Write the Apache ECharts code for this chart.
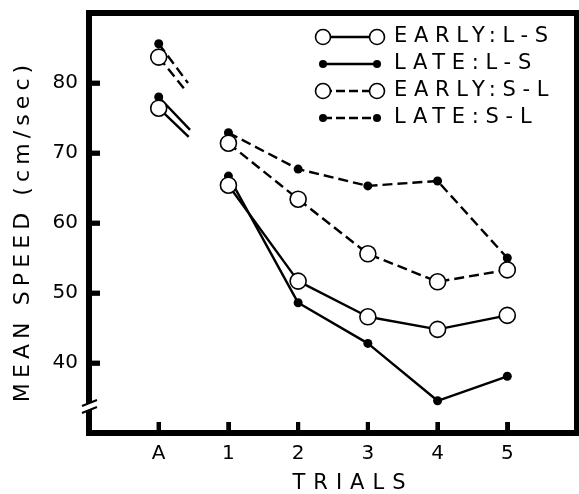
<!DOCTYPE html>
<html><head><meta charset="utf-8">
<script src="https://cdn.jsdelivr.net/npm/echarts@6/dist/echarts.min.js"></script>
<style>html,body{margin:0;padding:0;background:#fff}#c{width:579px;height:494px;background:#fff}</style>
</head><body><div id="c"></div>
<script>
// ---- data ----
const trialLabels = ['A', '1', '2', '3', '4', '5'];
const trialPositions = [0, 1, 2, 3, 4, 5];
const yTickValues = [40, 50, 60, 70, 80];
const earlyLS = [76.4, 65.4, 51.7, 46.6, 44.8, 46.8];
const lateLS  = [78.0, 66.7, 48.6, 42.8, 34.6, 38.1];
const earlySL = [83.7, 71.4, 63.4, 55.6, 51.6, 53.3];
const lateSL  = [85.6, 72.9, 67.7, 65.3, 66.0, 55.0];
// ends of the short broken segments leaving trial A
const earlyLSStub = [0.43, 72.3];
const lateLSStub  = [0.45, 73.3];
const earlySLStub = [0.38, 79.0];
const lateSLStub  = [0.42, 80.0];
const seriesNames = ['EARLY:L-S', 'LATE:L-S', 'EARLY:S-L', 'LATE:S-L'];
const xAxisTitle = 'TRIALS';
const yAxisTitle = 'MEAN SPEED (cm/sec)';
const axisBreakValue = 34;
const X_MIN = -1, Y_MIN = 30;

// ---- letter spacing for the spaced-out captions ----
const SPACING = {};
SPACING[xAxisTitle] = 8;
SPACING[yAxisTitle] = 5.1;
seriesNames.forEach(n => SPACING[n] = 6.7);
(function () {
  const proto = CanvasRenderingContext2D.prototype;
  const orig = proto.fillText;
  proto.fillText = function (t, x, y, w) {
    const s = SPACING[t];
    if (s && ('letterSpacing' in this)) {
      const f = this.font;
      this.letterSpacing = s + 'px';
      this.font = f;
      let dx = 0;
      if (this.textAlign === 'center') dx = s / 2;
      else if (this.textAlign === 'right' || this.textAlign === 'end') dx = s;
      if (w === undefined) orig.call(this, t, x + dx, y); else orig.call(this, t, x + dx, y, w);
      this.letterSpacing = '0px';
      this.font = f;
      return;
    }
    if (w === undefined) return orig.call(this, t, x, y);
    return orig.call(this, t, x, y, w);
  };
})();

const FONT = 'DejaVu Sans';
const chart = echarts.init(document.getElementById('c'), null, { renderer: 'canvas' });

function makeSeries(name, vals, stub, open, dashed) {
  const sym = open
    ? { symbol: 'circle', symbolSize: 16, itemStyle: { color: '#fff', borderColor: '#000', borderWidth: 1.6 } }
    : { symbol: 'circle', symbolSize: 9, itemStyle: { color: '#000' } };
  const ls = { color: '#000', width: 2.4, type: dashed ? [10, 5] : 'solid' };
  const z = open ? 4 : 3;
  return [
    Object.assign({
      type: 'line', name: name,
      data: vals.slice(1).map((v, i) => [trialPositions[i + 1], v]),
      showAllSymbol: true, lineStyle: ls, z: z, silent: true
    }, sym),
    Object.assign({
      type: 'line', name: name + ' A',
      data: [[trialPositions[0], vals[0]], { value: stub, symbol: 'none' }],
      lineStyle: ls, z: z, silent: true
    }, sym)
  ];
}

const series = [].concat(
  makeSeries(seriesNames[3], lateSL, lateSLStub, false, true),
  makeSeries(seriesNames[1], lateLS, lateLSStub, false, false),
  makeSeries(seriesNames[2], earlySL, earlySLStub, true, true),
  makeSeries(seriesNames[0], earlyLS, earlyLSStub, true, false)
);
// inward tick marks, placed by the axes' own scales
series.push({
  type: 'scatter', name: 'y ticks', silent: true, clip: false, z: 6,
  data: yTickValues.map(v => [X_MIN, v]),
  symbol: 'rect', symbolSize: [11, 4.5], symbolOffset: [5.5, 0],
  itemStyle: { color: '#030303' }
});
series.push({
  type: 'scatter', name: 'x ticks', silent: true, clip: false, z: 6,
  data: trialPositions.map(v => [v, Y_MIN]),
  symbol: 'rect', symbolSize: [4, 11], symbolOffset: [0, -5.5],
  itemStyle: { color: '#030303' }
});

chart.setOption({
  animation: false,
  grid: { left: 89, right: 2, top: 13, bottom: 61, show: true, borderColor: '#000', borderWidth: 6, outerBoundsMode: 'none' },
  xAxis: {
    type: 'value', min: X_MIN, max: 6, interval: 1,
    splitLine: { show: false },
    axisLine: { show: true, onZero: false, lineStyle: { color: '#000', width: 6 } },
    axisTick: { show: true, inside: true, length: 11, lineStyle: { color: '#010101', width: 4 } },
    axisLabel: {
      margin: 11, color: '#000', fontSize: 20, fontFamily: FONT,
      formatter: v => { const i = trialPositions.indexOf(v); return i >= 0 ? trialLabels[i] : ''; }
    },
    name: xAxisTitle, nameLocation: 'middle', nameGap: 40,
    nameTextStyle: { color: '#000', fontSize: 21, fontFamily: FONT, padding: [0, 0, 0, 32] }
  },
  yAxis: {
    type: 'value', min: Y_MIN, max: 90, interval: 10,
    splitLine: { show: false },
    axisLine: { show: true, onZero: false, lineStyle: { color: '#000', width: 6 } },
    axisTick: { show: true, inside: true, length: 11, lineStyle: { color: '#010101', width: 4.5 } },
    axisLabel: {
      margin: 11, color: '#000', fontSize: 20, fontFamily: FONT,
      formatter: v => yTickValues.indexOf(v) >= 0 ? String(v) : ''
    },
    name: yAxisTitle, nameLocation: 'middle', nameGap: 55,
    nameTextStyle: { color: '#000', fontSize: 22, fontFamily: FONT, padding: [0, 21, 0, 0] }
  },
  series: series
});

// legend and axis break drawn as graphics
const legendY = [37, 64, 91, 118];
const legendOpen = [true, false, true, false];
const legendDashed = [false, false, true, true];
const g = [];
seriesNames.forEach((nm, k) => {
  const y = legendY[k], x1 = 323, x2 = 377;
  g.push({ type: 'line', shape: { x1: x1, y1: y, x2: x2, y2: y }, style: { stroke: '#000', lineWidth: 2.4, lineDash: legendDashed[k] ? [9, 4] : null }, z: 40 });
  [x1, x2].forEach(cx => {
    if (legendOpen[k]) g.push({ type: 'circle', shape: { cx: cx, cy: y, r: 7.5 }, style: { fill: '#fff', stroke: '#000', lineWidth: 1.6 }, z: 41 });
    else g.push({ type: 'circle', shape: { cx: cx, cy: y, r: 4 }, style: { fill: '#000' }, z: 41 });
  });
  g.push({ type: 'text', x: 394, y: y, style: { text: nm, fill: '#000', font: '21px "' + FONT + '"', textAlign: 'left', textVerticalAlign: 'middle' }, z: 41 });
});
const bx = chart.convertToPixel({ xAxisIndex: 0 }, X_MIN);
const bottomY = chart.convertToPixel({ yAxisIndex: 0 }, Y_MIN);
yTickValues.forEach(v => {
  const py = chart.convertToPixel({ yAxisIndex: 0 }, v);
  g.push({ type: 'rect', shape: { x: bx, y: py - 2.25, width: 11, height: 4.5 }, style: { fill: '#020202' }, z: 100 });
});
trialPositions.forEach(v => {
  const px = chart.convertToPixel({ xAxisIndex: 0 }, v);
  g.push({ type: 'rect', shape: { x: px - 2, y: bottomY - 11, width: 4, height: 11 }, style: { fill: '#020202' }, z: 100 });
});
const by = chart.convertToPixel({ yAxisIndex: 0 }, axisBreakValue);
g.push({ type: 'polygon', shape: { points: [[bx - 5, by + 0.6], [bx + 5, by - 3.4], [bx + 5, by + 3.6], [bx - 5, by + 7.6]] }, style: { fill: '#fff' }, z: 110 });
g.push({ type: 'line', shape: { x1: bx - 7, y1: by + 1, x2: bx + 8, y2: by - 5 }, style: { stroke: '#000', lineWidth: 2 }, z: 111 });
g.push({ type: 'line', shape: { x1: bx - 7, y1: by + 8, x2: bx + 8, y2: by + 2 }, style: { stroke: '#000', lineWidth: 2 }, z: 111 });
chart.setOption({ graphic: g });
</script>
</body></html>
